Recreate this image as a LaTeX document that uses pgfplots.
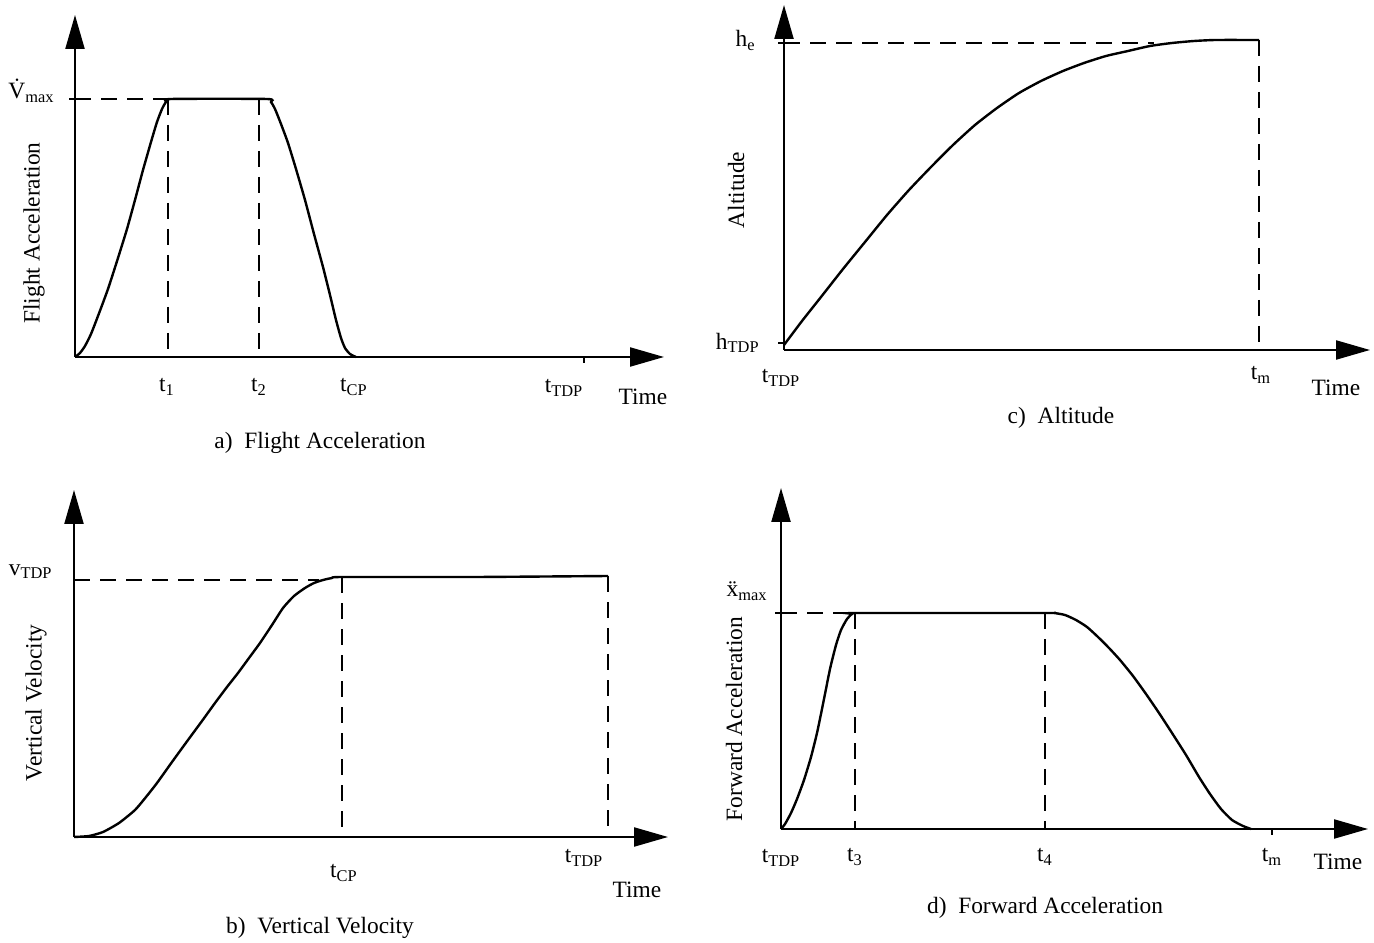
\documentclass[border=0pt]{standalone}
\usepackage{fontspec}
\setmainfont{Liberation Serif}
\usepackage{pgfplots}
\pgfplotsset{compat=1.18}
\usetikzlibrary{arrows.meta}

\pgfplotsset{
  sketch/.style={
    x=0.5pt, y=0.5pt, xmin=0, ymin=0,
    axis lines=left,
    axis line style={line width=1.1pt, -{Triangle[length=17pt,width=9.5pt]}},
    clip=false,
    xtick=\empty, ytick=\empty,
    yticklabels={},
    tick style={black, line width=0.8pt},
    tick align=outside,
    major tick length=3pt,
    anchor=south west,
  },
  curve/.style={line width=1.2pt, black, smooth, tension=0.35, mark=none},
  guide/.style={line width=0.8pt, black, dash pattern=on 8pt off 5pt, mark=none},
  mtick/.style={line width=0.8pt, black, mark=none},
}
\tikzset{lev/.style={inner sep=0pt}}

\begin{document}
\fontsize{11.7}{14}\selectfont
\begin{tikzpicture}
\useasboundingbox (0,0) rectangle (687pt,471pt);

% ---------------- a) Flight Acceleration ----------------
\begin{axis}[sketch, at={(37.5pt,292.5pt)}, xmax=589, ymax=342, ytick={258}]
\addplot[curve] coordinates {(0,0)(5,4)(10,11)(16,23)(23,41)(33,68)(43,99)(52,128)(60,157)(68,187)(76,215)(82,235)(87,248)(91,255)(96,258)(192,258)(196,255)(200,248)(206,233)(213,214)(221,188)(230,157)(239,123)(248,90)(255,62)(261,37)(266,19)(270,9)(275,3)(281,0)};
\addplot[guide] coordinates {(0,258)(93,258)};
\addplot[guide] coordinates {(93,258)(93,0)};
\addplot[guide] coordinates {(184,258)(184,0)};
\addplot[mtick] coordinates {(509,0)(509,-6)};
\node[lev, anchor=base east] at (axis cs:-20,258) {\.{V}\textsubscript{max}};
\node at (axis cs:92,-30) {t\textsubscript{1}};
\node at (axis cs:184,-30) {t\textsubscript{2}};
\node at (axis cs:279,-30) {t\textsubscript{CP}};
\node at (axis cs:489,-31) {t\textsubscript{TDP}};
\node at (axis cs:568,-40) {Time};
\node[rotate=90] at (axis cs:-41,124) {Flight Acceleration};
\node at (axis cs:245,-86) {a)\ \ Flight Acceleration};
\end{axis}

% ---------------- b) Vertical Velocity ----------------
\begin{axis}[sketch, at={(37pt,52.5pt)}, xmax=594, ymax=347]
\addplot[curve] coordinates {(0,0)(15,1)(29,5)(45,14)(61,27)(72,40)(83,54)(98,75)(114,97)(128,116)(141,134)(153,150)(164,164)(175,179)(186,194)(198,212)(209,229)(220,241)(231,249)(240,254)(249,257)(258,259)(268,260)(400,260)(534,261)};
\addplot[guide] coordinates {(0,257)(245,257)};
\addplot[guide] coordinates {(268,260)(268,0)};
\addplot[guide] coordinates {(534,261)(534,0)};
\node[lev, anchor=base east] at (axis cs:-21,262) {v\textsubscript{TDP}};
\node at (axis cs:270,-36) {t\textsubscript{CP}};
\node at (axis cs:510,-21) {t\textsubscript{TDP}};
\node at (axis cs:563,-53) {Time};
\node[rotate=90] at (axis cs:-38,134) {Vertical Velocity};
\node at (axis cs:246,-91) {b)\ \ Vertical Velocity};
\end{axis}

% ---------------- c) Altitude ----------------
\begin{axis}[sketch, at={(392pt,296pt)}, xmax=586, ymax=345, ytick={7,307}]
\addplot[curve] coordinates {(0,5)(18,29)(37,53)(59,81)(81,108)(103,135)(125,160)(147,183)(169,205)(191,225)(213,242)(235,257)(257,269)(279,279)(300,287)(322,294)(344,299)(366,304)(388,307)(410,309)(432,310)(475,310)};
\addplot[guide] coordinates {(0,307)(370,307)};
\addplot[guide] coordinates {(475,310)(475,0)};
\node[lev, anchor=base east] at (axis cs:-28,303) {h\textsubscript{e}};
\node[lev, anchor=east] at (axis cs:-24,7) {h\textsubscript{TDP}};
\node at (axis cs:-3,-28) {t\textsubscript{TDP}};
\node at (axis cs:477,-25) {t\textsubscript{m}};
\node at (axis cs:552,-38) {Time};
\node[rotate=90] at (axis cs:-48,160) {Altitude};
\node at (axis cs:277,-68) {c)\ \ Altitude};
\end{axis}

% ---------------- d) Forward Acceleration ----------------
\begin{axis}[sketch, at={(390.5pt,56.5pt)}, xmax=587, ymax=341, ytick={216}]
\addplot[curve] coordinates {(0,0)(4,5)(10,16)(16,30)(23,49)(30,72)(36,96)(42,125)(49,160)(55,184)(60,199)(66,210)(71,215)(76,216)(264,216)(273,216)(284,214)(295,209)(306,202)(317,192)(328,181)(339,169)(352,153)(365,135)(378,116)(391,96)(405,74)(418,52)(429,35)(440,20)(451,9)(462,3)(470,0)};
\addplot[guide] coordinates {(0,216)(74,216)};
\addplot[guide] coordinates {(74,216)(74,0)};
\addplot[guide] coordinates {(264,216)(264,0)};
\addplot[mtick] coordinates {(491,0)(491,-6)};
\node[lev, anchor=base east] at (axis cs:-13,232) {\"{x}\textsubscript{max}};
\node at (axis cs:0,-29) {t\textsubscript{TDP}};
\node at (axis cs:74,-28) {t\textsubscript{3}};
\node at (axis cs:264,-28) {t\textsubscript{4}};
\node at (axis cs:491,-28) {t\textsubscript{m}};
\node at (axis cs:557,-33) {Time};
\node[rotate=90] at (axis cs:-47,110) {Forward Acceleration};
\node at (axis cs:264,-79) {d)\ \ Forward Acceleration};
\end{axis}
\end{tikzpicture}
\end{document}
